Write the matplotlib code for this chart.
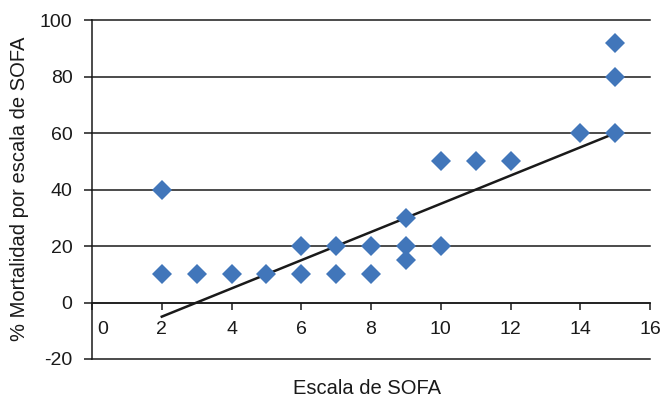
import matplotlib
matplotlib.use("Agg")
import matplotlib.pyplot as plt
import matplotlib.transforms as mtransforms

plt.rcParams['font.family'] = ['Liberation Sans', 'DejaVu Sans']
plt.rcParams['axes.unicode_minus'] = False

sofa = [2, 2, 3, 4, 5, 6, 6, 7, 7, 8, 8, 9, 9, 9, 10, 10, 11, 12, 14, 15, 15, 15]
mortality = [40, 10, 10, 10, 10, 20, 10, 20, 10, 20, 10, 30, 20, 15, 50, 20, 50, 50, 60, 92, 80, 60]
trend_x = [2, 15]
trend_y = [-5, 60]
x_ticks = [0, 2, 4, 6, 8, 10, 12, 14, 16]
y_ticks = [-20, 0, 20, 40, 60, 80, 100]

fig = plt.figure(figsize=(6.62, 3.98), dpi=100)
ax = fig.add_axes([0.139, 0.098, 0.843, 0.851])

ax.set_xlim(0, 16)
ax.set_ylim(-20, 100)
ax.set_xticks(x_ticks)
ax.set_yticks(y_ticks)

for y in y_ticks:
    ax.axhline(y, color='#1a1a1a', lw=1.1, zorder=1, clip_on=False)

ax.plot(trend_x, trend_y, color='#1a1a1a', lw=1.8, zorder=2)
ax.plot(sofa, mortality, linestyle='none', marker='D', markersize=10,
        color='#4176BA', markeredgewidth=0, zorder=3)

for s in ['top', 'right']:
    ax.spines[s].set_visible(False)
ax.spines['bottom'].set_position(('data', 0))
ax.spines['bottom'].set_linewidth(1.1)
ax.spines['left'].set_linewidth(1.1)
ax.spines['bottom'].set_color('#1a1a1a')
ax.spines['left'].set_color('#1a1a1a')

ax.tick_params(axis='x', direction='out', length=5, width=1.1, pad=8,
               labelsize=14, colors='#1a1a1a')
ax.tick_params(axis='y', direction='out', length=6, width=1.1, pad=8,
               labelsize=14, colors='#1a1a1a')

fig.canvas.draw()
lbl0 = ax.get_xticklabels()[0]
lbl0.set_transform(lbl0.get_transform() + mtransforms.ScaledTranslation(11/100, 0, fig.dpi_scale_trans))

fig.text(367/662, 1 - 393.5/398, 'Escala de SOFA', fontsize=14.5, color='#1a1a1a',
         ha='center', va='baseline')
fig.text(20/662, 1 - 189/398, '% Mortalidad por escala de SOFA', fontsize=14.5,
         color='#1a1a1a', ha='center', va='center', rotation=90)

fig.savefig('out.png', dpi=100)
